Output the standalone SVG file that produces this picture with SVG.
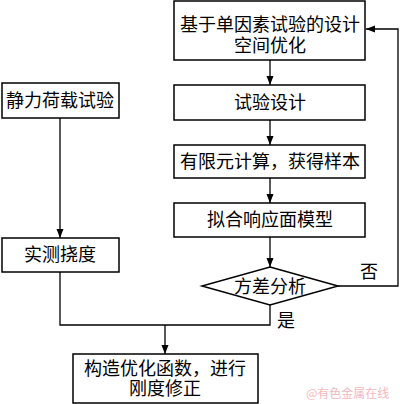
<svg xmlns="http://www.w3.org/2000/svg" width="400" height="404" viewBox="0 0 400 404">
<style>
.box{fill:#fff;stroke:#000;stroke-width:1.5}
.t{font-family:"Liberation Serif","Noto Sans CJK SC",serif;font-size:18px;text-anchor:middle;fill:#000}
.ln{fill:none;stroke:#000;stroke-width:1.3}
.wm{font-family:"Noto Sans CJK SC",sans-serif;font-size:12px;fill:#f2b8bf}
</style>
<defs>
<marker id="ah" markerWidth="10" markerHeight="10" refX="9" refY="5" orient="auto" markerUnits="userSpaceOnUse">
<path d="M0,1.5 L9,5 L0,8.5 Z" fill="#000"/>
</marker>
</defs>
<rect width="400" height="404" fill="#fff"/>
<g id="connectors">
<line class="ln" x1="270" y1="60" x2="270" y2="85" marker-end="url(#ah)"/>
<line class="ln" x1="270" y1="120" x2="270" y2="145" marker-end="url(#ah)"/>
<line class="ln" x1="270" y1="178" x2="270" y2="203" marker-end="url(#ah)"/>
<line class="ln" x1="270" y1="237" x2="270" y2="267" marker-end="url(#ah)"/>
<line class="ln" x1="60" y1="118" x2="60" y2="238" marker-end="url(#ah)"/>
<polyline class="ln" points="338,286 398,286 398,29 366,29" marker-end="url(#ah)"/>
<polyline class="ln" points="270,305 270,325 60,325 60,272"/>
<line class="ln" x1="165" y1="325" x2="165" y2="354" marker-end="url(#ah)"/>
<text class="t" x="369" y="278">否</text>
<text class="t" x="286" y="327">是</text>
</g>
<g id="n1">
<rect class="box" x="174" y="1" width="191" height="59"/>
<text class="t" x="270" y="31">基于单因素试验的设计</text>
<text class="t" x="270" y="52">空间优化</text>
</g>
<g id="n2">
<rect class="box" x="174" y="85" width="191" height="35"/>
<text class="t" x="270" y="109">试验设计</text>
</g>
<g id="n3">
<rect class="box" x="174" y="145" width="191" height="33"/>
<text class="t" x="270" y="168">有限元计算，获得样本</text>
</g>
<g id="n4">
<rect class="box" x="174" y="203" width="191" height="34"/>
<text class="t" x="270" y="226">拟合响应面模型</text>
</g>
<g id="n5">
<polygon class="box" points="270,267 338,286 270,305 202,286"/>
<text class="t" x="270" y="293">方差分析</text>
</g>
<g id="n6">
<rect class="box" x="2" y="83" width="117" height="35"/>
<text class="t" x="60" y="107">静力荷载试验</text>
</g>
<g id="n7">
<rect class="box" x="2" y="238" width="117" height="34"/>
<text class="t" x="60" y="261">实测挠度</text>
</g>
<g id="n8">
<rect class="box" x="73" y="354" width="185" height="49"/>
<text class="t" x="165" y="375">构造优化函数，进行</text>
<text class="t" x="165" y="395">刚度修正</text>
</g>
<text class="wm" x="306" y="398">@有色金属在线</text>
</svg>
